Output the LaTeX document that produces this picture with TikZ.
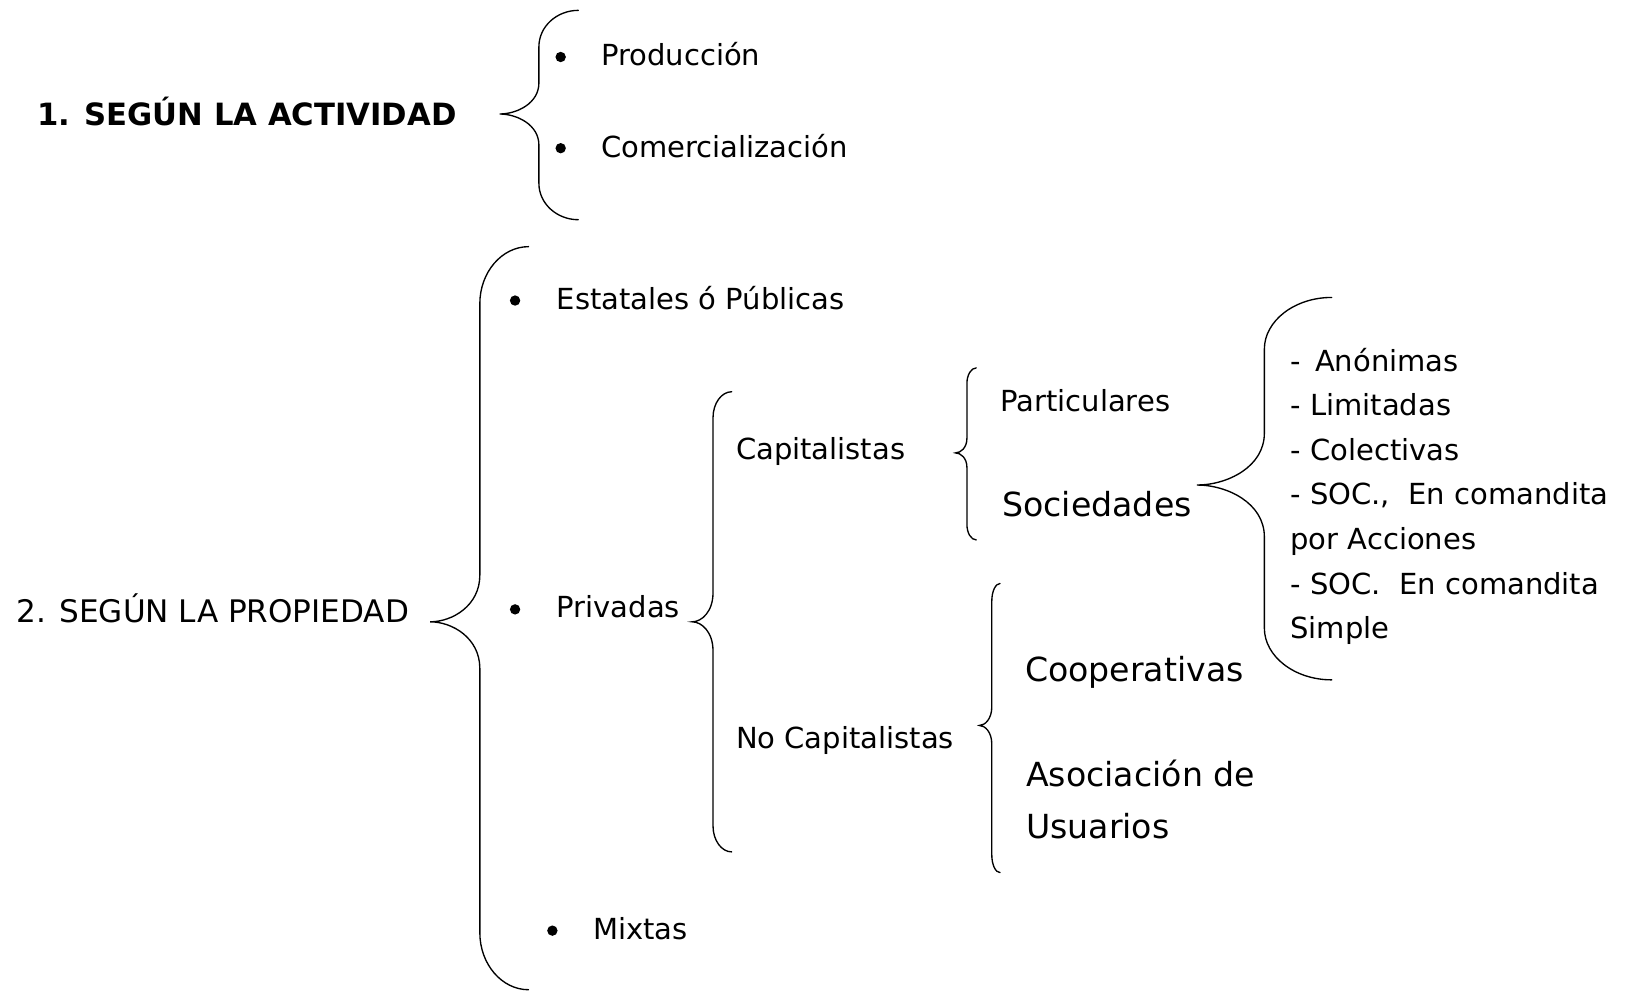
\documentclass[tikz,border=0pt]{standalone}
\usepackage{fontspec}
\setmainfont{DejaVu Sans}
\newcommand\mybrace[8]{%
  \draw[bracepath] (#6,#2) .. controls ({#6-0.55*(#6-#1)},#2) and (#1,{#2+0.45*#7}) .. (#1,{#2+#7})
    -- (#1,{#5-#8}) .. controls (#1,{#5-0.35*#8}) and ({#4+0.45*(#1-#4)},#5) .. (#4,#5)
    .. controls ({#4+0.45*(#1-#4)},#5) and (#1,{#5+0.35*#8}) .. (#1,{#5+#8})
    -- (#1,{#3-#7}) .. controls (#1,{#3-0.45*#7}) and ({#6-0.55*(#6-#1)},#3) .. (#6,#3);}
\begin{document}
\begin{tikzpicture}[x=1pt,y=-1pt,
  bracepath/.style={line width=1.3pt, line cap=round},
  txt/.style={anchor=base west, inner sep=0pt, font=\fontsize{28}{34}\selectfont},
  big/.style={anchor=base west, inner sep=0pt, font=\fontsize{32}{38}\selectfont},
  bul/.style={circle, fill=black, inner sep=0pt, minimum size=10pt}]
\useasboundingbox[fill=white] (0,0) rectangle (1568,958);
% 1. Segun la actividad
\node[txt, font=\fontsize{29.6}{35}\selectfont\bfseries] (t1) at (36,121) {1. SEGÚN LA ACTIVIDAD};
\mybrace{520}{10}{212}{482}{110}{558}{35}{30}
\node[bul] (b1) at (541,55) {};
\node[txt] (prod) at (580,63) {Producción};
\node[bul] (b2) at (541,143) {};
\node[txt] (com) at (580,152) {Comercialización};
% 2. Segun la propiedad
\node[txt, font=\fontsize{30}{36}\selectfont] (t2) at (16,601) {2. SEGÚN LA PROPIEDAD};
\mybrace{463}{238}{955}{415}{600}{510}{55}{45}
\node[bul] (b3) at (497,290) {};
\node[txt] (est) at (537,299) {Estatales ó Públicas};
\node[bul] (b4) at (497,588) {};
\node[txt] (priv) at (537,596) {Privadas};
\node[bul] (b5) at (533,898) {};
\node[txt] (mix) at (572,907) {Mixtas};
% Privadas
\mybrace{688}{378}{822}{668}{600}{706}{25}{28}
\node[txt] (cap) at (710,443) {Capitalistas};
\node[txt] (nocap) at (710,722) {No Capitalistas};
% Capitalistas
\mybrace{933}{355}{521}{922}{437}{942}{15}{14}
\node[txt] (part) at (965,397) {Particulares};
\node[big] (soc) at (967,498) {Sociedades};
% Sociedades
\mybrace{1220}{287}{656}{1155}{468}{1285}{50}{50}
\node[txt] (l1) at (1245,358) {-\, Anónimas};
\node[txt] (l2) at (1245,401) {- Limitadas};
\node[txt] (l3) at (1245,444) {- Colectivas};
\node[txt] (l4) at (1245,487) {- SOC.,\ \ En comandita};
\node[txt] (l5) at (1245,530) {por Acciones};
\node[txt] (l6) at (1245,574) {- SOC.\ \ En comandita};
\node[txt] (l7) at (1245,616) {Simple};
% No capitalistas
\mybrace{957}{563}{842}{945}{700}{965}{17}{18}
\node[big] (coop) at (989,658) {Cooperativas};
\node[big] (asoc) at (990,759) {Asociación de};
\node[big] (usu) at (990,809) {Usuarios};
\end{tikzpicture}
\end{document}
